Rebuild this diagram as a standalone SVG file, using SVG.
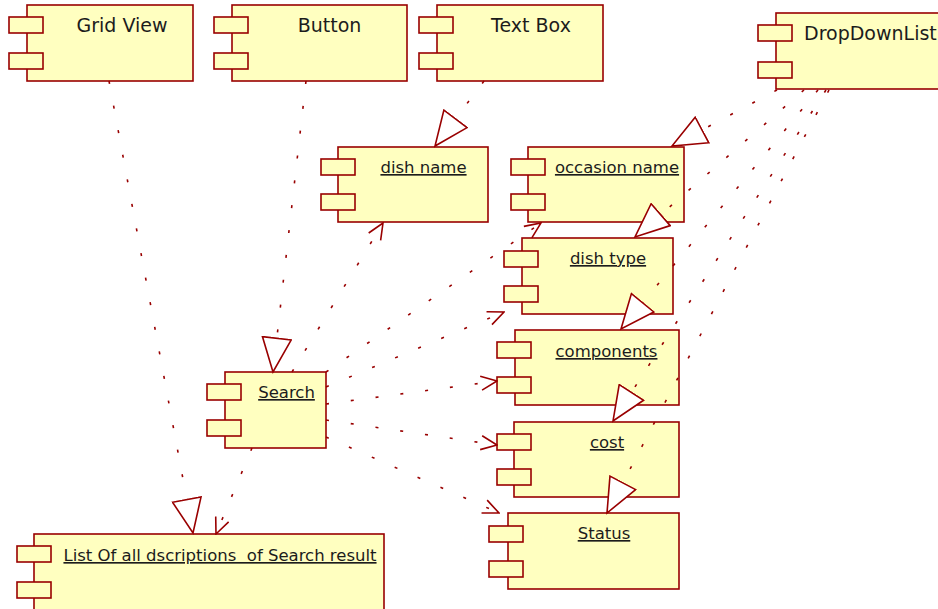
<svg xmlns="http://www.w3.org/2000/svg" width="938" height="609" viewBox="0 0 938 609">
  <style>
    .box { fill: #ffffc0; stroke: #990000; stroke-width: 1.6; }
    .lbl { font-family: "DejaVu Sans", "Liberation Sans", sans-serif; font-size: 19px; fill: #1c1c1c; text-anchor: middle; }
    .ul { font-size: 16.5px; text-decoration: underline; white-space: pre; }
    .dep { stroke: #990000; stroke-width: 1.6; stroke-dasharray: 3 22; fill: none; }
  </style>
  <defs>
    <marker id="tri" markerUnits="userSpaceOnUse" viewBox="-1 -1 37 31" refX="34" refY="14.5" markerWidth="37" markerHeight="31" orient="auto">
      <path d="M0,0 L34,14.5 L0,29 Z" fill="#ffffff" stroke="#990000" stroke-width="1.6" stroke-dasharray="none"/>
    </marker>
    <marker id="open" markerUnits="userSpaceOnUse" viewBox="-1 -1 18 16" refX="16" refY="7" markerWidth="18" markerHeight="16" orient="auto">
      <path d="M0,0 L16,7 L0,14" fill="none" stroke="#990000" stroke-width="1.6" stroke-dasharray="none"/>
    </marker>
  </defs>

  <g id="gridview">
    <rect class="box" x="27" y="5" width="166" height="76"/>
    <rect class="box" x="9" y="17" width="34" height="16"/>
    <rect class="box" x="9" y="53" width="34" height="16"/>
    <text class="lbl" x="122" y="32">Grid View</text>
  </g>
  <g id="button">
    <rect class="box" x="232" y="5" width="175" height="76"/>
    <rect class="box" x="214" y="17" width="34" height="16"/>
    <rect class="box" x="214" y="53" width="34" height="16"/>
    <text class="lbl" x="329.5" y="32">Button</text>
  </g>
  <g id="textbox">
    <rect class="box" x="437" y="5" width="166" height="76"/>
    <rect class="box" x="419" y="17" width="34" height="16"/>
    <rect class="box" x="419" y="53" width="34" height="16"/>
    <text class="lbl" x="531" y="32">Text Box</text>
  </g>
  <g id="dropdownlist">
    <rect class="box" x="776" y="13" width="180" height="76"/>
    <rect class="box" x="758" y="25" width="34" height="16"/>
    <rect class="box" x="758" y="62" width="34" height="16"/>
    <text class="lbl" x="804" y="40" style="text-anchor:start">DropDownList</text>
  </g>
  <g id="dishname">
    <rect class="box" x="338" y="147" width="150" height="75"/>
    <rect class="box" x="321" y="159" width="34" height="16"/>
    <rect class="box" x="321" y="194" width="34" height="16"/>
    <text class="lbl ul" x="423.5" y="173">dish name</text>
  </g>
  <g id="occasionname">
    <rect class="box" x="528" y="147" width="156" height="75"/>
    <rect class="box" x="511" y="159" width="34" height="16"/>
    <rect class="box" x="511" y="194" width="34" height="16"/>
    <text class="lbl ul" x="617" y="173">occasion name</text>
  </g>
  <g id="dishtype">
    <rect class="box" x="522" y="238" width="151" height="76"/>
    <rect class="box" x="504" y="251" width="34" height="16"/>
    <rect class="box" x="504" y="286" width="34" height="16"/>
    <text class="lbl ul" x="608" y="264">dish type</text>
  </g>
  <g id="components">
    <rect class="box" x="515" y="330" width="164" height="75"/>
    <rect class="box" x="497" y="342" width="34" height="16"/>
    <rect class="box" x="497" y="377" width="34" height="16"/>
    <text class="lbl ul" x="606.5" y="357">components</text>
  </g>
  <g id="cost">
    <rect class="box" x="514" y="422" width="165" height="75"/>
    <rect class="box" x="497" y="434" width="34" height="16"/>
    <rect class="box" x="497" y="469" width="34" height="16"/>
    <text class="lbl ul" x="607" y="448">cost</text>
  </g>
  <g id="status">
    <rect class="box" x="508" y="513" width="171" height="76"/>
    <rect class="box" x="489" y="526" width="34" height="16"/>
    <rect class="box" x="489" y="561" width="34" height="16"/>
    <text class="lbl ul" x="604" y="539">Status</text>
  </g>
  <g id="search">
    <rect class="box" x="225" y="372" width="101" height="76"/>
    <rect class="box" x="207" y="384" width="34" height="16"/>
    <rect class="box" x="207" y="420" width="34" height="16"/>
    <text class="lbl ul" x="286.5" y="398">Search</text>
  </g>
  <g id="listof">
    <rect class="box" x="34" y="534" width="350" height="90"/>
    <rect class="box" x="17" y="546" width="34" height="16"/>
    <rect class="box" x="17" y="582" width="34" height="16"/>
    <text class="lbl ul" x="220" y="561" xml:space="preserve">List Of all dscriptions  of Search result</text>
  </g>

  <g id="connectors">
    <!-- realizations (hollow triangle) -->
    <line class="dep" x1="109" y1="81" x2="193" y2="533" marker-end="url(#tri)"/>
    <line class="dep" x1="306" y1="81" x2="273" y2="372" marker-end="url(#tri)"/>
    <line class="dep" x1="484" y1="81" x2="435" y2="146" marker-end="url(#tri)"/>
    <line class="dep" x1="777" y1="90" x2="672" y2="146" marker-end="url(#tri)"/>
    <line class="dep" x1="804" y1="90" x2="635" y2="237" marker-end="url(#tri)"/>
    <line class="dep" x1="818" y1="90" x2="621" y2="329" marker-end="url(#tri)"/>
    <line class="dep" x1="826" y1="90" x2="613" y2="421" marker-end="url(#tri)"/>
    <line class="dep" x1="829" y1="90" x2="607" y2="513" marker-end="url(#tri)"/>
    <!-- dependencies (open arrow) -->
    <line class="dep" x1="292" y1="372" x2="383" y2="223" marker-end="url(#open)"/>
    <line class="dep" x1="326" y1="372" x2="541" y2="223" marker-end="url(#open)"/>
    <line class="dep" x1="326" y1="387" x2="504" y2="312" marker-end="url(#open)"/>
    <line class="dep" x1="326" y1="404" x2="497" y2="381" marker-end="url(#open)"/>
    <line class="dep" x1="326" y1="420" x2="497" y2="445" marker-end="url(#open)"/>
    <line class="dep" x1="326" y1="437" x2="499" y2="513" marker-end="url(#open)"/>
    <line class="dep" x1="252" y1="448" x2="216" y2="534" marker-end="url(#open)"/>
  </g>
</svg>
